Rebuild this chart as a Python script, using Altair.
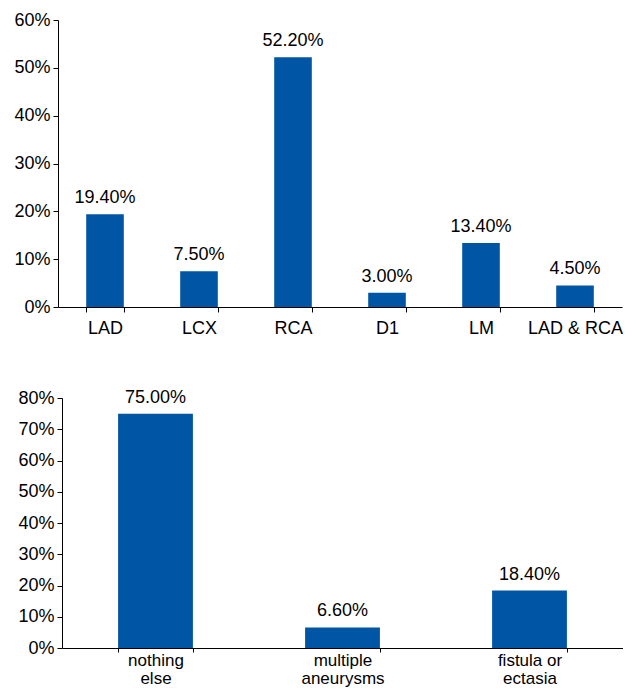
import altair as alt
import pandas as pd

# Top chart data
top_categories = ["LAD", "LCX", "RCA", "D1", "LM", "LAD & RCA"]
top_values = [0.194, 0.075, 0.522, 0.030, 0.134, 0.045]

# Bottom chart data
bottom_categories = ["nothing else", "multiple aneurysms", "fistula or ectasia"]
bottom_values = [0.75, 0.066, 0.184]

top_ticks = [0, 0.1, 0.2, 0.3, 0.4, 0.5, 0.6]
bottom_ticks = [0, 0.1, 0.2, 0.3, 0.4, 0.5, 0.6, 0.7, 0.8]

BAR = "#0055A4"
FONT = "Liberation Sans"

top_df = pd.DataFrame({"cat": top_categories, "val": top_values})
bottom_df = pd.DataFrame({"cat": bottom_categories, "val": bottom_values})

W, H = 565, 628


def panel(df, cats, ticks, dmax, x_range, y_range, x_offset, y_offset,
          tick_x, pad_x, xfont, xline, label_expr=None):
    x_axis_kwargs = dict(
        title=None, labelAngle=0, tickBand="extent", tickSize=tick_x, orient="bottom",
        offset=x_offset, labelPadding=pad_x, labelFontSize=xfont, labelFont=FONT,
        labelColor="#000", domainColor="#000", tickColor="#000", labelLineHeight=xline,
        grid=False,
    )
    if label_expr:
        x_axis_kwargs["labelExpr"] = label_expr
    x = alt.X("cat:N", sort=cats,
              scale=alt.Scale(range=x_range, paddingInner=0.6, paddingOuter=0.3),
              axis=alt.Axis(**x_axis_kwargs))
    y = alt.Y("val:Q",
              scale=alt.Scale(domain=[0, dmax], range=y_range, nice=False),
              axis=alt.Axis(title=None, format=".0%", values=ticks, tickCount=len(ticks),
                            grid=False, orient="left", offset=y_offset,
                            tickSize=5, labelFontSize=18, labelFont=FONT,
                            labelColor="#000", domainColor="#000", tickColor="#000",
                            labelPadding=3))
    bars = alt.Chart(df).mark_bar(color=BAR).encode(x=x, y=y)
    text = alt.Chart(df).mark_text(
        dy=-11, baseline="alphabetic", align="center", fontSize=18, font=FONT, color="#000"
    ).encode(x=x, y=y, text=alt.Text("val:Q", format=".2%"))
    return alt.layer(bars, text)


top = panel(top_df, top_categories, top_ticks, 0.6,
            x_range=[0, 564], y_range=[287, 0], x_offset=287 - H, y_offset=0,
            tick_x=5, pad_x=7, xfont=18, xline=20)
bottom = panel(
    bottom_df, bottom_categories, bottom_ticks, 0.8,
    x_range=[4, 565], y_range=[H, 378], x_offset=0, y_offset=-4,
    tick_x=4, pad_x=0, xfont=17, xline=18,
    label_expr="datum.label == 'fistula or ectasia' ? ['fistula or', 'ectasia'] : split(datum.label, ' ')",
)

chart = alt.layer(top, bottom).resolve_scale(
    x="independent", y="independent"
).properties(
    width=W, height=H,
    padding={"left": 50, "top": 12, "right": 0, "bottom": 40},
    autosize=alt.AutoSizeParams(type="none"),
).configure_view(stroke=None)

chart.save("out.html", embed_options={"renderer": "svg", "actions": False})
